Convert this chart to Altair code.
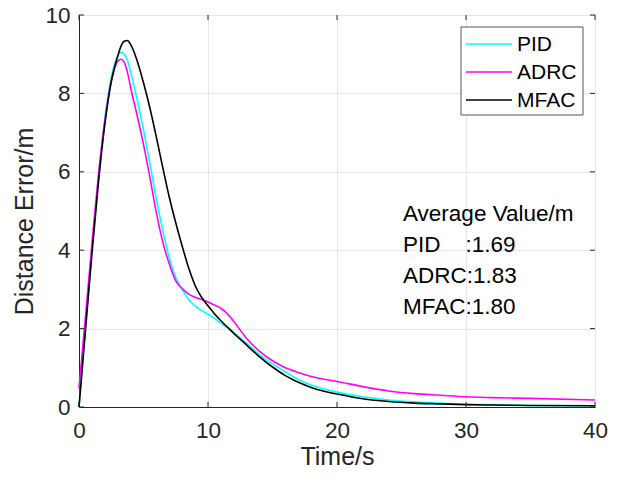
import altair as alt
import pandas as pd

# ---- data ----
t = [0, 0.5, 1, 1.5, 2, 2.5, 3, 3.25, 3.5, 3.75, 4, 4.5, 5, 5.5, 6, 6.5, 7, 7.5, 8, 8.5,
     9, 9.5, 10, 10.5, 11, 11.5, 12, 13, 14, 15, 16, 17, 18, 19, 20, 22, 24, 26, 28, 30,
     32, 35, 40]
pid = [0, 2.05, 4.0, 5.85, 7.35, 8.4, 8.95, 9.05, 9.0, 8.85, 8.55, 7.85, 7.07, 6.2, 5.3, 4.5,
       3.8, 3.3, 3.0, 2.74, 2.58, 2.46, 2.37, 2.26, 2.14, 2.02, 1.9, 1.62, 1.33, 1.1, 0.9,
       0.7, 0.56, 0.46, 0.38, 0.26, 0.18, 0.13, 0.1, 0.07, 0.06, 0.04, 0.03]
adrc = [0.48, 2.3, 4.15, 5.9, 7.3, 8.3, 8.82, 8.87, 8.8, 8.55, 8.15, 7.45, 6.7, 5.85, 4.95, 4.2,
        3.65, 3.22, 3.02, 2.88, 2.8, 2.74, 2.68, 2.6, 2.52, 2.38, 2.18, 1.75, 1.42, 1.18, 1.0,
        0.88, 0.78, 0.71, 0.65, 0.52, 0.41, 0.34, 0.3, 0.26, 0.24, 0.22, 0.18]
mfac = [0, 1.95, 3.9, 5.7, 7.2, 8.3, 8.95, 9.2, 9.33, 9.35, 9.25, 8.84, 8.27, 7.62, 6.88, 6.1,
        5.35, 4.7, 4.1, 3.55, 3.1, 2.8, 2.58, 2.38, 2.2, 2.04, 1.88, 1.58, 1.28, 1.02, 0.8,
        0.63, 0.5, 0.4, 0.33, 0.21, 0.14, 0.1, 0.08, 0.06, 0.05, 0.04, 0.03]
series_names = ["PID", "ADRC", "MFAC"]
series_colors = ["#00ffff", "#ff00ff", "#000000"]
avg_values = [1.69, 1.83, 1.80]
x_ticks = [0, 10, 20, 30, 40]
y_ticks = [0, 2, 4, 6, 8, 10]

W, H = 516, 392
FONT = "Liberation Sans"
AX = "#262626"

df = pd.DataFrame({
    "t": t * 3,
    "v": pid + adrc + mfac,
    "series": [s for s in series_names for _ in t],
})

xscale = alt.Scale(domain=[0, 40], nice=False, zero=False)
yscale = alt.Scale(domain=[0, 10], nice=False)
xaxis = alt.Axis(values=x_ticks, title="Time/s", grid=True, ticks=False, labelFlush=False,
                 labelPadding=12, titleX=W / 2, titleY=57, titleBaseline="alphabetic")
yaxis = alt.Axis(values=y_ticks, title="Distance Error/m", grid=True, ticks=False,
                 labelFlush=False, labelPadding=9, titleAngle=270, titleX=-47,
                 titleY=H / 2 + 10, titleBaseline="alphabetic", titleAlign="center")

layers = []
for name, col in zip(series_names, series_colors):
    layers.append(
        alt.Chart(df).transform_filter(alt.datum.series == name)
        .mark_line(color=col, strokeWidth=1.6, interpolate="monotone")
        .encode(x=alt.X("t:Q", scale=xscale, axis=xaxis),
                y=alt.Y("v:Q", scale=yscale, axis=yaxis))
    )

# inward ticks on all four sides
xt = pd.DataFrame({"p": x_ticks})
yt = pd.DataFrame({"p": y_ticks})
for y0, y1 in [(H, H - 5), (0, 5)]:
    layers.append(alt.Chart(xt).mark_rule(color=AX, strokeWidth=1).encode(
        x=alt.X("p:Q", scale=xscale, axis=xaxis), y=alt.value(y0), y2=alt.value(y1)))
for x0, x1 in [(0, 5), (W, W - 5)]:
    layers.append(alt.Chart(yt).mark_rule(color=AX, strokeWidth=1).encode(
        y=alt.Y("p:Q", scale=yscale, axis=yaxis), x=alt.value(x0), x2=alt.value(x1)))

# legend box
one = pd.DataFrame({"a": [0]})
layers.append(alt.Chart(one).mark_rect(fill="white", stroke="#555555", strokeWidth=1).encode(
    x=alt.value(382), x2=alt.value(504), y=alt.value(12), y2=alt.value(100)))
for i, (name, col) in enumerate(zip(series_names, series_colors)):
    ry = 29 + 28 * i
    layers.append(alt.Chart(one).mark_rule(color=col, strokeWidth=1.5).encode(
        x=alt.value(387), x2=alt.value(433), y=alt.value(ry)))
    layers.append(alt.Chart(one).mark_text(text=name, font=FONT, fontSize=21, color="black",
                                           align="left", baseline="middle").encode(
        x=alt.value(438), y=alt.value(ry + 1)))

# annotation
ann_lines = ["Average Value/m"] + [
    (n + "\u00a0\u00a0\u00a0\u00a0" if n == "PID" else n) + ":" + f"{v:.2f}"
    for n, v in zip(series_names, avg_values)
]
for i, txt in enumerate(ann_lines):
    layers.append(alt.Chart(one).mark_text(text=txt, font=FONT, fontSize=22.5, color="black",
                                           align="left", baseline="alphabetic").encode(
        x=alt.value(324), y=alt.value(206 + 31 * i)))

chart = alt.layer(*layers).properties(
    width=W, height=H,
    autosize=alt.AutoSizeParams(type="none"),
    padding={"left": 79, "top": 15, "right": 27, "bottom": 72},
    background="white",
).configure_view(stroke=AX, strokeWidth=1).configure_axis(
    labelFont=FONT, labelFontSize=22.5, labelColor=AX,
    titleFont=FONT, titleFontSize=25, titleFontWeight="normal", titleColor=AX,
    domainColor=AX, domainWidth=1, gridColor="#e6e6e6", gridWidth=1,
)

chart.save("out.html", embed_options={"renderer": "svg", "actions": False})
